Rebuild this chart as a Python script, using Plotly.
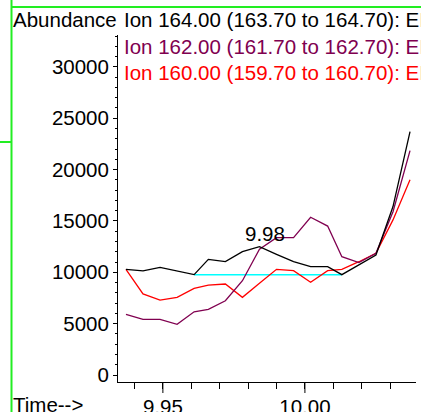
import plotly.graph_objects as go

# Retention time (min) for each scan
times = [9.937, 9.943, 9.949, 9.955, 9.961, 9.966, 9.972, 9.978, 9.984,
         9.990, 9.996, 10.002, 10.008, 10.013, 10.019, 10.025, 10.031, 10.037]

ion164 = [10290, 10130, 10480, 10130, 9770, 11260, 11040, 12010, 12500,
          11750, 11040, 10550, 10550, 9770, 10710, 11680, 16400, 23700]
ion162 = [5910, 5420, 5420, 4940, 6160, 6400, 7230, 9180, 12240,
          13370, 13370, 15360, 14500, 11520, 10940, 11850, 15900, 21840]
ion160 = [10290, 7890, 7300, 7560, 8440, 8760, 8860, 7560, 8930,
          10290, 10160, 9030, 10160, 10290, 11030, 11850, 15100, 19000]

baseline_t = [9.961, 10.013]
baseline_y = [9770, 9770]

peak_t = 9.984
peak_y = 12500
peak_label = "9.98"

legend_texts = [
    "Ion 164.00 (163.70 to 164.70): EIC.D\\data.ms",
    "Ion 162.00 (161.70 to 162.70): EIC.D\\data.ms",
    "Ion 160.00 (159.70 to 160.70): EIC.D\\data.ms",
]
legend_colors = ["#000000", "#800050", "#ff0000"]

ytick_vals = [0, 5000, 10000, 15000, 20000, 25000, 30000]
ytick_text = ["0", "5000", "10000", "15000", "20000", "25000", "30000"]
xtick_vals = [9.95, 10.00]
xtick_text = ["9.95", "10.00"]

FONT = "Liberation Sans, Arial, sans-serif"
FS = 20.5

fig = go.Figure()
fig.add_trace(go.Scatter(x=baseline_t, y=baseline_y, mode="lines",
                         line=dict(color="#00ffff", width=1.5), hoverinfo="skip"))
fig.add_trace(go.Scatter(x=times, y=ion160, mode="lines",
                         line=dict(color=legend_colors[2], width=1.3)))
fig.add_trace(go.Scatter(x=times, y=ion162, mode="lines",
                         line=dict(color=legend_colors[1], width=1.3)))
fig.add_trace(go.Scatter(x=times, y=ion164, mode="lines",
                         line=dict(color=legend_colors[0], width=1.3)))

# peak label
fig.add_annotation(x=peak_t, y=peak_y, text=peak_label, showarrow=False,
                   xref="x", yref="y", xanchor="center", yanchor="bottom",
                   xshift=6, yshift=0,
                   font=dict(family=FONT, size=FS, color="black"))

# paper mapping: x 0->118px, 1->416px ; y 0->382px, 1->35px
def px(xp):
    return (xp - 118) / 298.0

def py(yp):
    return (382 - yp) / 347.0

fig.add_annotation(x=px(11), y=py(20), xref="paper", yref="paper",
                   text="Abundance", showarrow=False, xanchor="left", yanchor="middle",
                   font=dict(family=FONT, size=FS, color="black"))
for i, (t, c) in enumerate(zip(legend_texts, legend_colors)):
    fig.add_annotation(x=px(122), y=py(20 + i * 26), xref="paper", yref="paper",
                       text=t, showarrow=False, xanchor="left", yanchor="middle",
                       font=dict(family=FONT, size=FS, color=c))
fig.add_annotation(x=px(11), y=py(404), xref="paper", yref="paper",
                   text="Time-->", showarrow=False, xanchor="left", yanchor="middle",
                   font=dict(family=FONT, size=FS, color="black"))

green = "#22ee22"
shapes = [
    dict(type="line", xref="paper", yref="paper", x0=px(11.5), x1=px(11.5),
         y0=py(0), y1=py(412), line=dict(color=green, width=2)),
    dict(type="line", xref="paper", yref="paper", x0=px(11.5), x1=px(421),
         y0=py(7), y1=py(7), line=dict(color=green, width=2)),
    dict(type="line", xref="paper", yref="paper", x0=px(0), x1=px(11.5),
         y0=py(142), y1=py(142), line=dict(color=green, width=2)),
]
# longer major x ticks
for tv in xtick_vals:
    shapes.append(dict(type="line", xref="x", yref="paper", x0=tv, x1=tv,
                       y0=0, y1=py(393), line=dict(color="black", width=1)))
fig.update_layout(shapes=shapes)

fig.update_xaxes(range=[9.9342, 10.0391], showline=True, linecolor="black", linewidth=1,
                 tickmode="array", tickvals=xtick_vals, ticktext=xtick_text,
                 ticks="outside", ticklen=6, tickwidth=1, tickcolor="black",
                 minor=dict(dtick=0.01, tick0=9.95, ticks="outside", ticklen=6,
                            tickcolor="black", tickwidth=1),
                 showgrid=False, zeroline=False, automargin=False,
                 tickfont=dict(family=FONT, size=FS, color="black"))
fig.update_yaxes(range=[-680, 33100], showline=True, linecolor="black", linewidth=1,
                 tickmode="array", tickvals=ytick_vals, ticktext=ytick_text,
                 ticks="outside", ticklen=4, tickwidth=1, tickcolor="black",
                 minor=dict(dtick=1000, ticks="outside", ticklen=2,
                            tickcolor="black", tickwidth=1),
                 showgrid=False, zeroline=False, automargin=False,
                 tickfont=dict(family=FONT, size=FS, color="black"))

fig.update_layout(width=421, height=412, showlegend=False,
                  margin=dict(l=118, r=5, t=35, b=30),
                  paper_bgcolor="white", plot_bgcolor="white")

fig.write_html("out.html", config={"displayModeBar": False},
               post_script="document.body.style.margin='0';document.body.style.overflow='hidden';")
